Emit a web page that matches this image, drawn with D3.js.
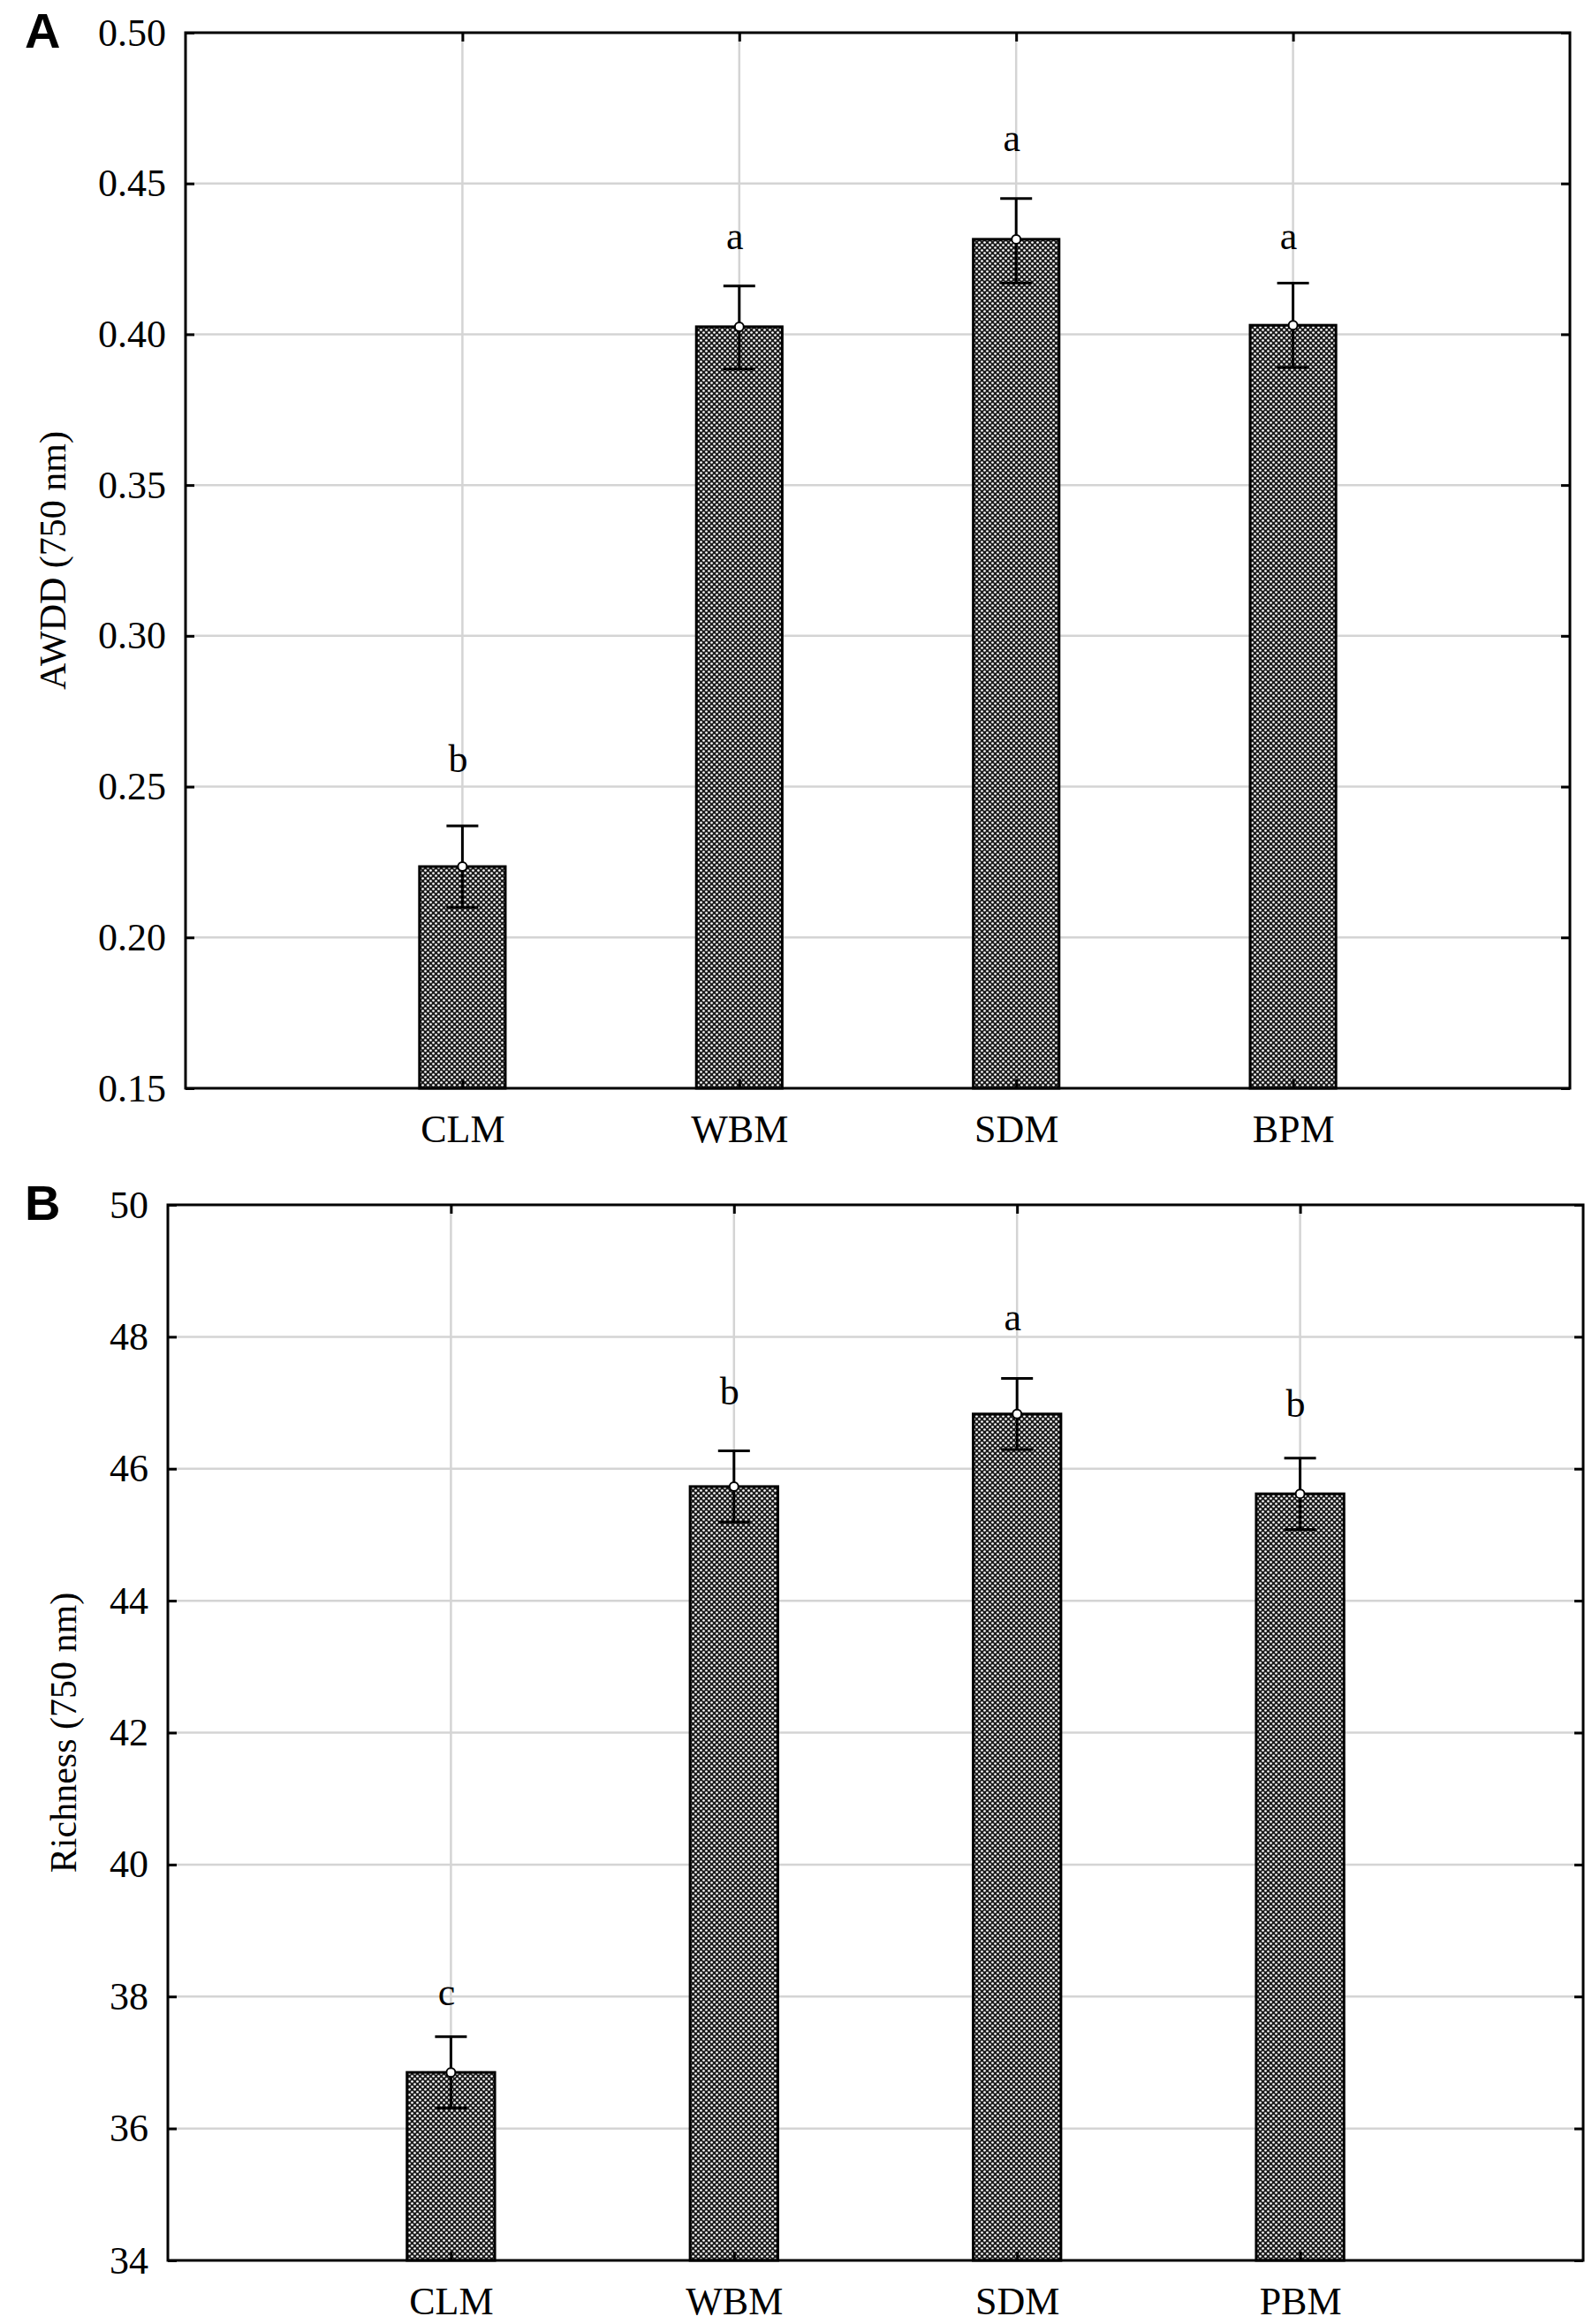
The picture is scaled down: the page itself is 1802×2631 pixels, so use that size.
<!DOCTYPE html>
<html>
<head>
<meta charset="utf-8">
<script src="https://cdn.jsdelivr.net/npm/d3@7"></script>
<style>
  body { margin: 0; background: #fff; }
  svg text { font-family: "Liberation Serif", "Times New Roman", serif; fill: #000; }
</style>
</head>
<body>
<script>
// values
const catsA = ['CLM', 'WBM', 'SDM', 'BPM']
const meanA = [0.2235, 0.4025, 0.4315, 0.4030]
const loA = [0.2100, 0.3885, 0.4170, 0.3890]
const hiA = [0.2370, 0.4160, 0.4450, 0.4170]
const lettersA = ['b', 'a', 'a', 'a']
const letterYA = [0.2587, 0.4322, 0.4646, 0.4322]
const ticksA = [0.15, 0.20, 0.25, 0.30, 0.35, 0.40, 0.45, 0.50]

const catsB = ['CLM', 'WBM', 'SDM', 'PBM']
const meanB = [36.85, 45.73, 46.83, 45.62]
const loB = [36.31, 45.19, 46.29, 45.08]
const hiB = [37.39, 46.27, 47.37, 46.16]
const lettersB = ['c', 'b', 'a', 'b']
const letterYB = [38.04, 47.15, 48.27, 46.97]
const ticksB = [34, 36, 38, 40, 42, 44, 46, 48, 50]

const W = 1802, H = 2631
const FS = 44
const SERIF = '"Liberation Serif", "Times New Roman", serif'

const svg = d3.select('body').append('svg')
  .attr('width', W)
  .attr('height', H)

// dithered fill like the original
const defs = svg.append('defs')
const pat = defs.append('pattern')
  .attr('id', 'dots')
  .attr('patternUnits', 'userSpaceOnUse')
  .attr('width', 6)
  .attr('height', 6)
pat.append('rect').attr('width', 6).attr('height', 6).attr('fill', '#1c1c1c')
pat.append('circle').attr('cx', 1.5).attr('cy', 1.5).attr('r', 1.35).attr('fill', '#fff')
pat.append('circle').attr('cx', 4.5).attr('cy', 4.5).attr('r', 1.35).attr('fill', '#fff')

function drawPanel(o) {
  const g = svg.append('g')
  const x = d3.scaleLinear().domain([0, 5]).range([o.left, o.right])
  const y = d3.scaleLinear().domain(o.domain).range([o.bottom, o.top])
  const idx = o.cats.map((c, i) => i + 1)

  // grid
  g.selectAll('.hg').data(o.ticks.slice(1, -1)).enter().append('line')
    .attr('x1', o.left).attr('x2', o.right)
    .attr('y1', d => y(d)).attr('y2', d => y(d))
    .attr('stroke', '#d4d4d4').attr('stroke-width', 2.5)
  g.selectAll('.vg').data(idx).enter().append('line')
    .attr('x1', d => x(d)).attr('x2', d => x(d))
    .attr('y1', o.top).attr('y2', o.bottom)
    .attr('stroke', '#d4d4d4').attr('stroke-width', 2.5)

  // bars
  const bw = x(0.155) - x(0)
  g.selectAll('.bar').data(o.mean).enter().append('rect')
    .attr('x', (d, i) => x(i + 1) - bw)
    .attr('width', bw * 2)
    .attr('y', d => y(d))
    .attr('height', d => o.bottom - y(d))
    .attr('fill', 'url(#dots)')
    .attr('stroke', '#000')
    .attr('stroke-width', 3)

  // error bars
  const cap = 18
  const eb = g.selectAll('.eb').data(o.mean).enter().append('g')
  eb.append('line')
    .attr('x1', (d, i) => x(i + 1)).attr('x2', (d, i) => x(i + 1))
    .attr('y1', (d, i) => y(o.lo[i])).attr('y2', (d, i) => y(o.hi[i]))
    .attr('stroke', '#000').attr('stroke-width', 3)
  eb.append('line')
    .attr('x1', (d, i) => x(i + 1) - cap).attr('x2', (d, i) => x(i + 1) + cap)
    .attr('y1', (d, i) => y(o.hi[i])).attr('y2', (d, i) => y(o.hi[i]))
    .attr('stroke', '#000').attr('stroke-width', 3)
  eb.append('line')
    .attr('x1', (d, i) => x(i + 1) - cap).attr('x2', (d, i) => x(i + 1) + cap)
    .attr('y1', (d, i) => y(o.lo[i])).attr('y2', (d, i) => y(o.lo[i]))
    .attr('stroke', '#000').attr('stroke-width', 3)
  eb.append('circle')
    .attr('cx', (d, i) => x(i + 1)).attr('cy', d => y(d))
    .attr('r', 5).attr('fill', '#fff').attr('stroke', '#000').attr('stroke-width', 2)

  // significance letters
  g.selectAll('.let').data(o.letters).enter().append('text')
    .attr('x', (d, i) => x(i + 1) - 5)
    .attr('y', (d, i) => y(o.letterY[i]))
    .attr('dy', '0.3em')
    .attr('text-anchor', 'middle')
    .attr('font-size', FS)
    .text(d => d)

  // axes, ticks pointing inwards
  const axL = d3.axisLeft(y).tickValues(o.ticks).tickFormat(o.fmt).tickSizeInner(-10).tickSizeOuter(0).tickPadding(22)
  const axR = d3.axisRight(y).tickValues(o.ticks).tickFormat('').tickSizeInner(-10).tickSizeOuter(0)
  const axB = d3.axisBottom(x).tickValues(idx).tickFormat(d => o.cats[d - 1]).tickSizeInner(-10).tickSizeOuter(0).tickPadding(30)
  const axT = d3.axisTop(x).tickValues(idx).tickFormat('').tickSizeInner(-10).tickSizeOuter(0)

  const styleAxis = sel => {
    sel.select('.domain').remove()
    sel.selectAll('.tick line').attr('stroke', '#000').attr('stroke-width', 3)
    sel.selectAll('text').attr('font-size', FS).style('font-family', SERIF)
  }
  g.append('g').attr('transform', `translate(${o.left},0)`).call(axL).call(styleAxis)
  g.append('g').attr('transform', `translate(${o.right},0)`).call(axR).call(styleAxis)
  g.append('g').attr('transform', `translate(0,${o.bottom})`).call(axB).call(styleAxis)
  g.append('g').attr('transform', `translate(0,${o.top})`).call(axT).call(styleAxis)

  // frame
  g.append('rect')
    .attr('x', o.left).attr('y', o.top)
    .attr('width', o.right - o.left).attr('height', o.bottom - o.top)
    .attr('fill', 'none').attr('stroke', '#000').attr('stroke-width', 3)

  // y title
  g.append('text')
    .attr('transform', `translate(${o.titleX},${(o.top + o.bottom) / 2}) rotate(-90)`)
    .attr('text-anchor', 'middle')
    .attr('dy', '0.35em')
    .attr('font-size', FS - 2)
    .text(o.title)

  // panel letter
  g.append('text')
    .attr('x', 28).attr('y', o.labelY)
    .attr('font-weight', 'bold')
    .attr('font-size', 56)
    .style('font-family', '"Liberation Sans", Arial, sans-serif')
    .text(o.label)
}

drawPanel({
  label: 'A', labelY: 54, title: 'AWDD (750 nm)', titleX: 59,
  cats: catsA, mean: meanA, lo: loA, hi: hiA,
  letters: lettersA, letterY: letterYA,
  ticks: ticksA, domain: [0.15, 0.50], fmt: d3.format('.2f'),
  left: 210, right: 1777, top: 37, bottom: 1232
})

drawPanel({
  label: 'B', labelY: 1381, title: 'Richness (750 nm)', titleX: 71,
  cats: catsB, mean: meanB, lo: loB, hi: hiB,
  letters: lettersB, letterY: letterYB,
  ticks: ticksB, domain: [34, 50], fmt: d3.format('d'),
  left: 190, right: 1792, top: 1364, bottom: 2559
})
</script>
</body>
</html>
